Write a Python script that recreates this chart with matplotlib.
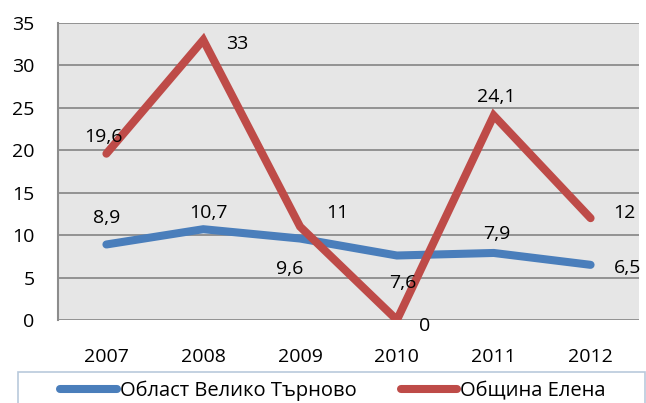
import numpy as np
import matplotlib
matplotlib.use("Agg")
import matplotlib.pyplot as plt
from matplotlib.patches import Rectangle

plt.rcParams['font.family'] = ['Open Sans', 'DejaVu Sans']

years = ['2007', '2008', '2009', '2010', '2011', '2012']
oblast = [8.9, 10.7, 9.6, 7.6, 7.9, 6.5]
obshtina = [19.6, 33, 11, 0, 24.1, 12]
oblast_labels = ['8,9', '10,7', '9,6', '7,6', '7,9', '6,5']
obshtina_labels = ['19,6', '33', '11', '0', '24,1', '12']
series_names = ['Област Велико Търново', 'Община Елена']

# label offsets in pixels, picked by eye
oblast_off = [(0, 26), (5, 16), (-10, -30), (6, -27), (3, 19), (37, -3)]
obshtina_off = [(-3, 17), (34, -4), (37, 14), (28, -6), (3, 18), (34, 5)]

blue = '#4a7ebb'
red = '#be4b48'
fs = 14

W, H = 646, 403
fig = plt.figure(figsize=(W/100, H/100), dpi=100)
ax = fig.add_axes([58/W, 1 - 320/H, 581/W, 297/H])
ax.set_facecolor('#e6e6e6')

x = np.arange(len(years))
ax.plot(x, oblast, color=blue, lw=5.8, solid_capstyle='round', solid_joinstyle='miter',
        label=series_names[0], zorder=3)
ax.plot(x, obshtina, color=red, lw=5.8, solid_capstyle='round', solid_joinstyle='miter',
        label=series_names[1], zorder=4)

for i in range(len(x)):
    ax.annotate(oblast_labels[i], (x[i], oblast[i]), xytext=oblast_off[i],
                textcoords='offset pixels', ha='center', va='center', fontsize=fs, zorder=5)
    ax.annotate(obshtina_labels[i], (x[i], obshtina[i]), xytext=obshtina_off[i],
                textcoords='offset pixels', ha='center', va='center', fontsize=fs, zorder=5)

ax.set_xlim(-0.5, len(years) - 0.5)
ax.set_ylim(0, 35)
ax.set_yticks(np.arange(0, 36, 5))
ax.set_xticks(x)
ax.set_xticklabels(years)
ax.tick_params(axis='both', length=0, labelsize=fs)
ax.tick_params(axis='x', pad=20)
ax.tick_params(axis='y', pad=17)
ax.grid(axis='y', color='#8c8c8c', lw=1.3)
ax.set_axisbelow(True)

for s in ['top', 'right', 'bottom']:
    ax.spines[s].set_visible(False)
ax.spines['left'].set_color('#8c8c8c')
ax.spines['left'].set_linewidth(1.5)

# legend box runs off the bottom of the picture, like the reference
fig.patches.append(Rectangle((18/W, -0.05), 627/W, 0.05 + 1 - 372/H,
                             transform=fig.transFigure, facecolor='white',
                             edgecolor='#b9c9dc', lw=1.2, zorder=1))
leg = fig.legend(loc='upper center', bbox_to_anchor=(333/W, 1 - 377/H),
                 ncol=2, fontsize=fs + 0.5, frameon=False,
                 handlelength=2.8, handletextpad=0.15, columnspacing=2.2,
                 borderaxespad=0, borderpad=0.2)
leg.set_zorder(2)

fig.savefig('out.png', dpi=100)
